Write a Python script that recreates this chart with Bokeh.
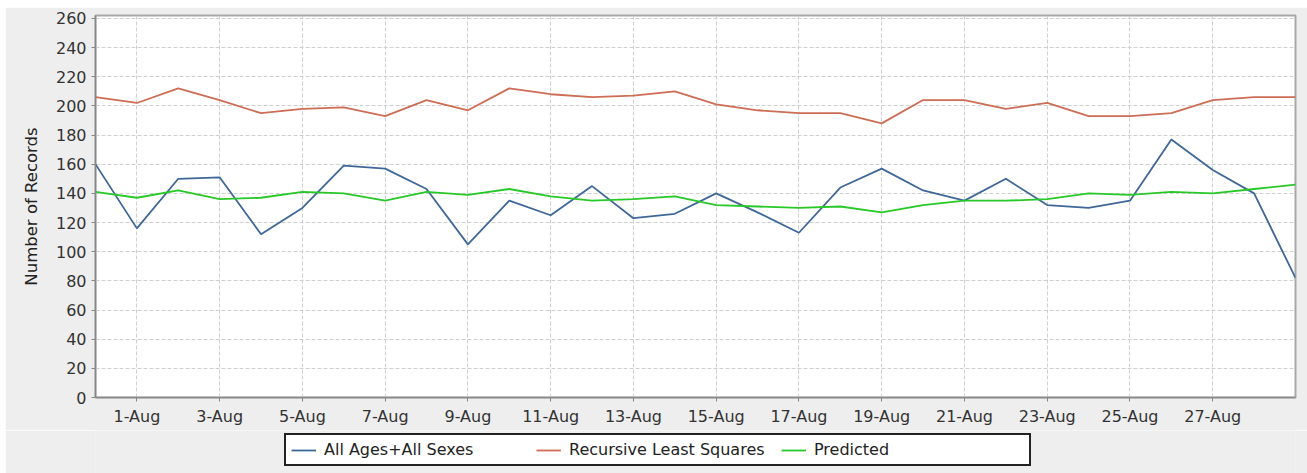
from bokeh.plotting import figure
from bokeh.layouts import column
from bokeh.models import Range1d, FixedTicker, Legend, LegendItem
from bokeh.embed import file_html
from bokeh.resources import INLINE

dates = ["31-Jul", "1-Aug", "2-Aug", "3-Aug", "4-Aug", "5-Aug", "6-Aug", "7-Aug",
         "8-Aug", "9-Aug", "10-Aug", "11-Aug", "12-Aug", "13-Aug", "14-Aug", "15-Aug",
         "16-Aug", "17-Aug", "18-Aug", "19-Aug", "20-Aug", "21-Aug", "22-Aug", "23-Aug",
         "24-Aug", "25-Aug", "26-Aug", "27-Aug", "28-Aug", "29-Aug"]

all_ages = [160, 116, 150, 151, 112, 130, 159, 157, 143, 105, 135, 125, 145, 123, 126,
            140, 127, 113, 144, 157, 142, 135, 150, 132, 130, 135, 177, 156, 140, 82]

rls = [206, 202, 212, 204, 195, 198, 199, 193, 204, 197, 212, 208, 206, 207, 210,
       201, 197, 195, 195, 188, 204, 204, 198, 202, 193, 193, 195, 204, 206, 206]

predicted = [141, 137, 142, 136, 137, 141, 140, 135, 141, 139, 143, 138, 135, 136, 138,
             132, 131, 130, 131, 127, 132, 135, 135, 136, 140, 139, 141, 140, 143, 146]

x_tick_labels = ["1-Aug", "3-Aug", "5-Aug", "7-Aug", "9-Aug", "11-Aug", "13-Aug",
                 "15-Aug", "17-Aug", "19-Aug", "21-Aug", "23-Aug", "25-Aug", "27-Aug"]
y_ticks = list(range(0, 261, 20))

series_names = ["All Ages+All Sexes", "Recursive Least Squares", "Predicted"]
colors = ["#3f6797", "#cd6d55", "#28c828"]
series = [all_ages, rls, predicted]

x = list(range(len(dates)))
FONT = "DejaVu Sans"
BG = "#eeeeee"

p = figure(width=1302, height=423, output_backend="svg", toolbar_location=None,
           x_range=Range1d(0, len(dates) - 1), y_range=Range1d(0, 262),
           min_border_left=90, min_border_right=12, min_border_top=8, min_border_bottom=33)

p.border_fill_color = BG
p.background_fill_color = "white"
p.outline_line_color = "#a8a8a8"
p.outline_line_width = 2

for vals, c in zip(series, colors):
    p.line(x, vals, line_color=c, line_width=1.8)

tick_pos = [dates.index(t) for t in x_tick_labels]
p.xaxis.ticker = FixedTicker(ticks=tick_pos)
p.xaxis.major_label_overrides = {pos: lab for pos, lab in zip(tick_pos, x_tick_labels)}
p.yaxis.ticker = FixedTicker(ticks=y_ticks)

for ax in (p.xaxis, p.yaxis):
    ax.axis_line_color = "#888888"
    ax.axis_line_width = 1.5
    ax.major_tick_line_color = "#888888"
    ax.major_tick_out = 4
    ax.major_tick_in = 0
    ax.minor_tick_line_color = None
    ax.major_label_text_font = FONT
    ax.major_label_text_font_size = "16px"
    ax.major_label_text_color = "#333333"

p.xaxis.major_label_standoff = 5
p.yaxis.major_label_standoff = 5
p.yaxis.axis_label = "Number of Records"
p.yaxis.axis_label_text_font = FONT
p.yaxis.axis_label_text_font_size = "16.5px"
p.yaxis.axis_label_text_font_style = "normal"
p.yaxis.axis_label_text_color = "#222222"
p.yaxis.axis_label_standoff = 12

for g in (p.xgrid, p.ygrid):
    g.grid_line_color = "#cfcfcf"
    g.grid_line_dash = "4 2"
    g.grid_line_width = 1
p.xgrid.ticker = FixedTicker(ticks=tick_pos)
p.ygrid.ticker = FixedTicker(ticks=y_ticks)

# legend strip below the chart (series drawn out of view, only their legend glyphs show)
lf = figure(width=1302, height=43, output_backend="svg", toolbar_location=None,
            x_range=Range1d(0, len(dates) - 1), y_range=Range1d(0, 1),
            x_axis_location=None, y_axis_location=None,
            min_border_left=90, min_border_right=12, min_border_top=0, min_border_bottom=0)
lf.border_fill_color = BG
lf.background_fill_color = BG
lf.background_fill_alpha = 1.0
lf.outline_line_color = None
lf.xgrid.visible = False
lf.ygrid.visible = False

leg_renderers = [lf.line(x, vals, line_color=c, line_width=1.8) for vals, c in zip(series, colors)]
legend = Legend(items=[LegendItem(label=n, renderers=[r]) for n, r in zip(series_names, leg_renderers)],
                orientation="horizontal", location=(189, 7),
                label_text_font=FONT, label_text_font_size="16px", label_text_color="#222222",
                glyph_width=25, glyph_height=18, label_standoff=8, label_width=210,
                spacing=2, padding=5, margin=0,
                border_line_color="#222222", border_line_width=2, border_line_alpha=1.0,
                background_fill_color="white", background_fill_alpha=1.0)
lf.add_layout(legend, "center")

layout = column(p, lf, spacing=0, margin=(7, 0, 0, 5))
open("out.html", "w").write(file_html(layout, INLINE))
